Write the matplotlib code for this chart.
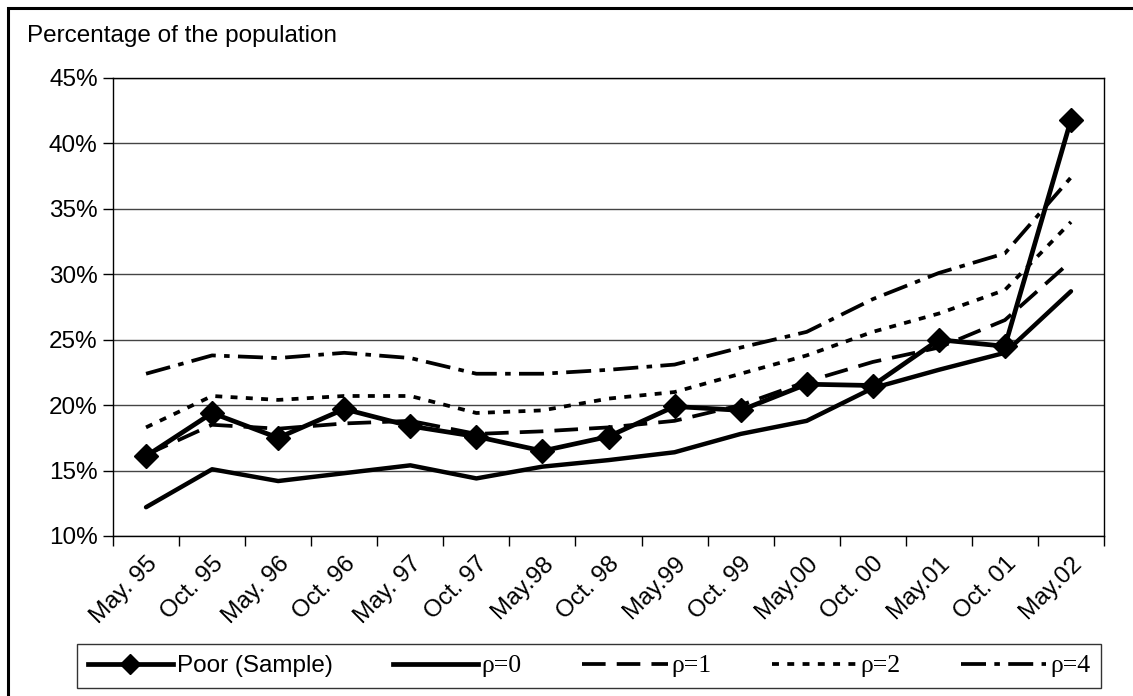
import matplotlib
matplotlib.use("Agg")
import matplotlib.pyplot as plt
from matplotlib.lines import Line2D
from matplotlib.patches import Rectangle
import numpy as np

plt.rcParams["font.family"] = ["Liberation Sans", "DejaVu Sans"]
plt.rcParams["lines.scale_dashes"] = False

periods = ["May. 95", "Oct. 95", "May. 96", "Oct. 96", "May. 97", "Oct. 97",
           "May.98", "Oct. 98", "May.99", "Oct. 99", "May.00", "Oct. 00",
           "May.01", "Oct. 01", "May.02"]

poor_sample = [16.1, 19.4, 17.5, 19.7, 18.4, 17.6, 16.5, 17.6, 19.9, 19.6,
               21.6, 21.5, 25.0, 24.5, 41.8]
rho0 = [12.2, 15.1, 14.2, 14.8, 15.4, 14.4, 15.3, 15.8, 16.4, 17.8,
        18.8, 21.3, 22.7, 24.0, 28.7]
rho1 = [16.2, 18.5, 18.2, 18.6, 18.8, 17.8, 18.0, 18.3, 18.8, 20.0,
        21.8, 23.3, 24.4, 26.5, 31.0]
rho2 = [18.3, 20.7, 20.4, 20.7, 20.7, 19.4, 19.6, 20.5, 21.0, 22.4,
        23.8, 25.6, 27.0, 28.8, 34.0]
rho4 = [22.4, 23.8, 23.6, 24.0, 23.6, 22.4, 22.4, 22.7, 23.1, 24.4,
        25.6, 28.1, 30.1, 31.6, 37.4]

FS = 17.5
DASH1 = (17, 8)
DASH2 = (5, 6)
DASH4 = (18, 6, 4, 6)

fig = plt.figure(figsize=(11.33, 6.96), dpi=100)
ax = fig.add_axes([113 / 1133, 1 - 536 / 696, (1104 - 113) / 1133, (536 - 78) / 696])

x = np.arange(len(periods))
ax.plot(x, rho4, color="black", lw=2.7, dashes=DASH4, zorder=3)
ax.plot(x, rho2, color="black", lw=2.7, dashes=DASH2, zorder=3)
ax.plot(x, rho1, color="black", lw=2.7, dashes=DASH1, zorder=3)
ax.plot(x, rho0, color="black", lw=3.2, solid_capstyle="round", zorder=4)
ax.plot(x, poor_sample, color="black", lw=3.4, marker="D", markersize=12, zorder=5)

ax.set_xlim(-0.5, len(periods) - 0.5)
ax.set_ylim(10, 45)
ax.set_yticks(np.arange(10, 46, 5))
ax.set_yticklabels([f"{v}%" for v in range(10, 46, 5)], fontsize=FS)
ax.yaxis.grid(True, color="#444444", lw=1)
ax.set_axisbelow(True)

ax.set_xticks(x)
ax.set_xticklabels(periods, fontsize=FS, rotation=45, ha="right",
                   rotation_mode="anchor")
ax.set_xticks(np.arange(-0.5, len(periods), 1), minor=True)
ax.tick_params(axis="x", which="major", length=0, pad=12)
ax.tick_params(axis="x", which="minor", length=7, width=1, direction="out")
ax.tick_params(axis="y", length=7, width=1, direction="out", pad=4)
for sp in ax.spines.values():
    sp.set_linewidth(1)

fig.text(27 / 1133, 1 - 36 / 696, "Percentage of the population", fontsize=FS,
         va="center", ha="left")

# outer chart border (top and left visible)
fig.patches.append(Rectangle((8 / 1133, -0.05), 1.2, 1 - 8 / 696 + 0.05,
                             transform=fig.transFigure, fill=False,
                             edgecolor="black", lw=2.2))

handles = [
    Line2D([], [], color="black", lw=3.4, marker="D", markersize=10),
    Line2D([], [], color="black", lw=3.4),
    Line2D([], [], color="black", lw=2.7, dashes=DASH1),
    Line2D([], [], color="black", lw=2.7, dashes=DASH2),
    Line2D([], [], color="black", lw=2.7, dashes=DASH4),
]
labels = ["Poor (Sample)", "ρ=0", "ρ=1", "ρ=2", "ρ=4"]
leg = fig.legend(handles, labels, loc="lower left", ncol=5, mode="expand",
                 bbox_to_anchor=(77 / 1133, 1 - 688 / 696, (1101 - 77) / 1133, (688 - 635) / 696),
                 fontsize=FS, frameon=True, fancybox=False, edgecolor="black",
                 handlelength=3.5, handletextpad=0.15, borderaxespad=0,
                 borderpad=0.45, columnspacing=1.5)
leg.get_frame().set_linewidth(1)
leg._legend_box.sep = 0
for t in leg.get_texts()[1:]:
    t.set_fontfamily(["Liberation Serif", "DejaVu Serif"])
    t.set_fontsize(18.5)

fig.savefig("out.png", dpi=100)
